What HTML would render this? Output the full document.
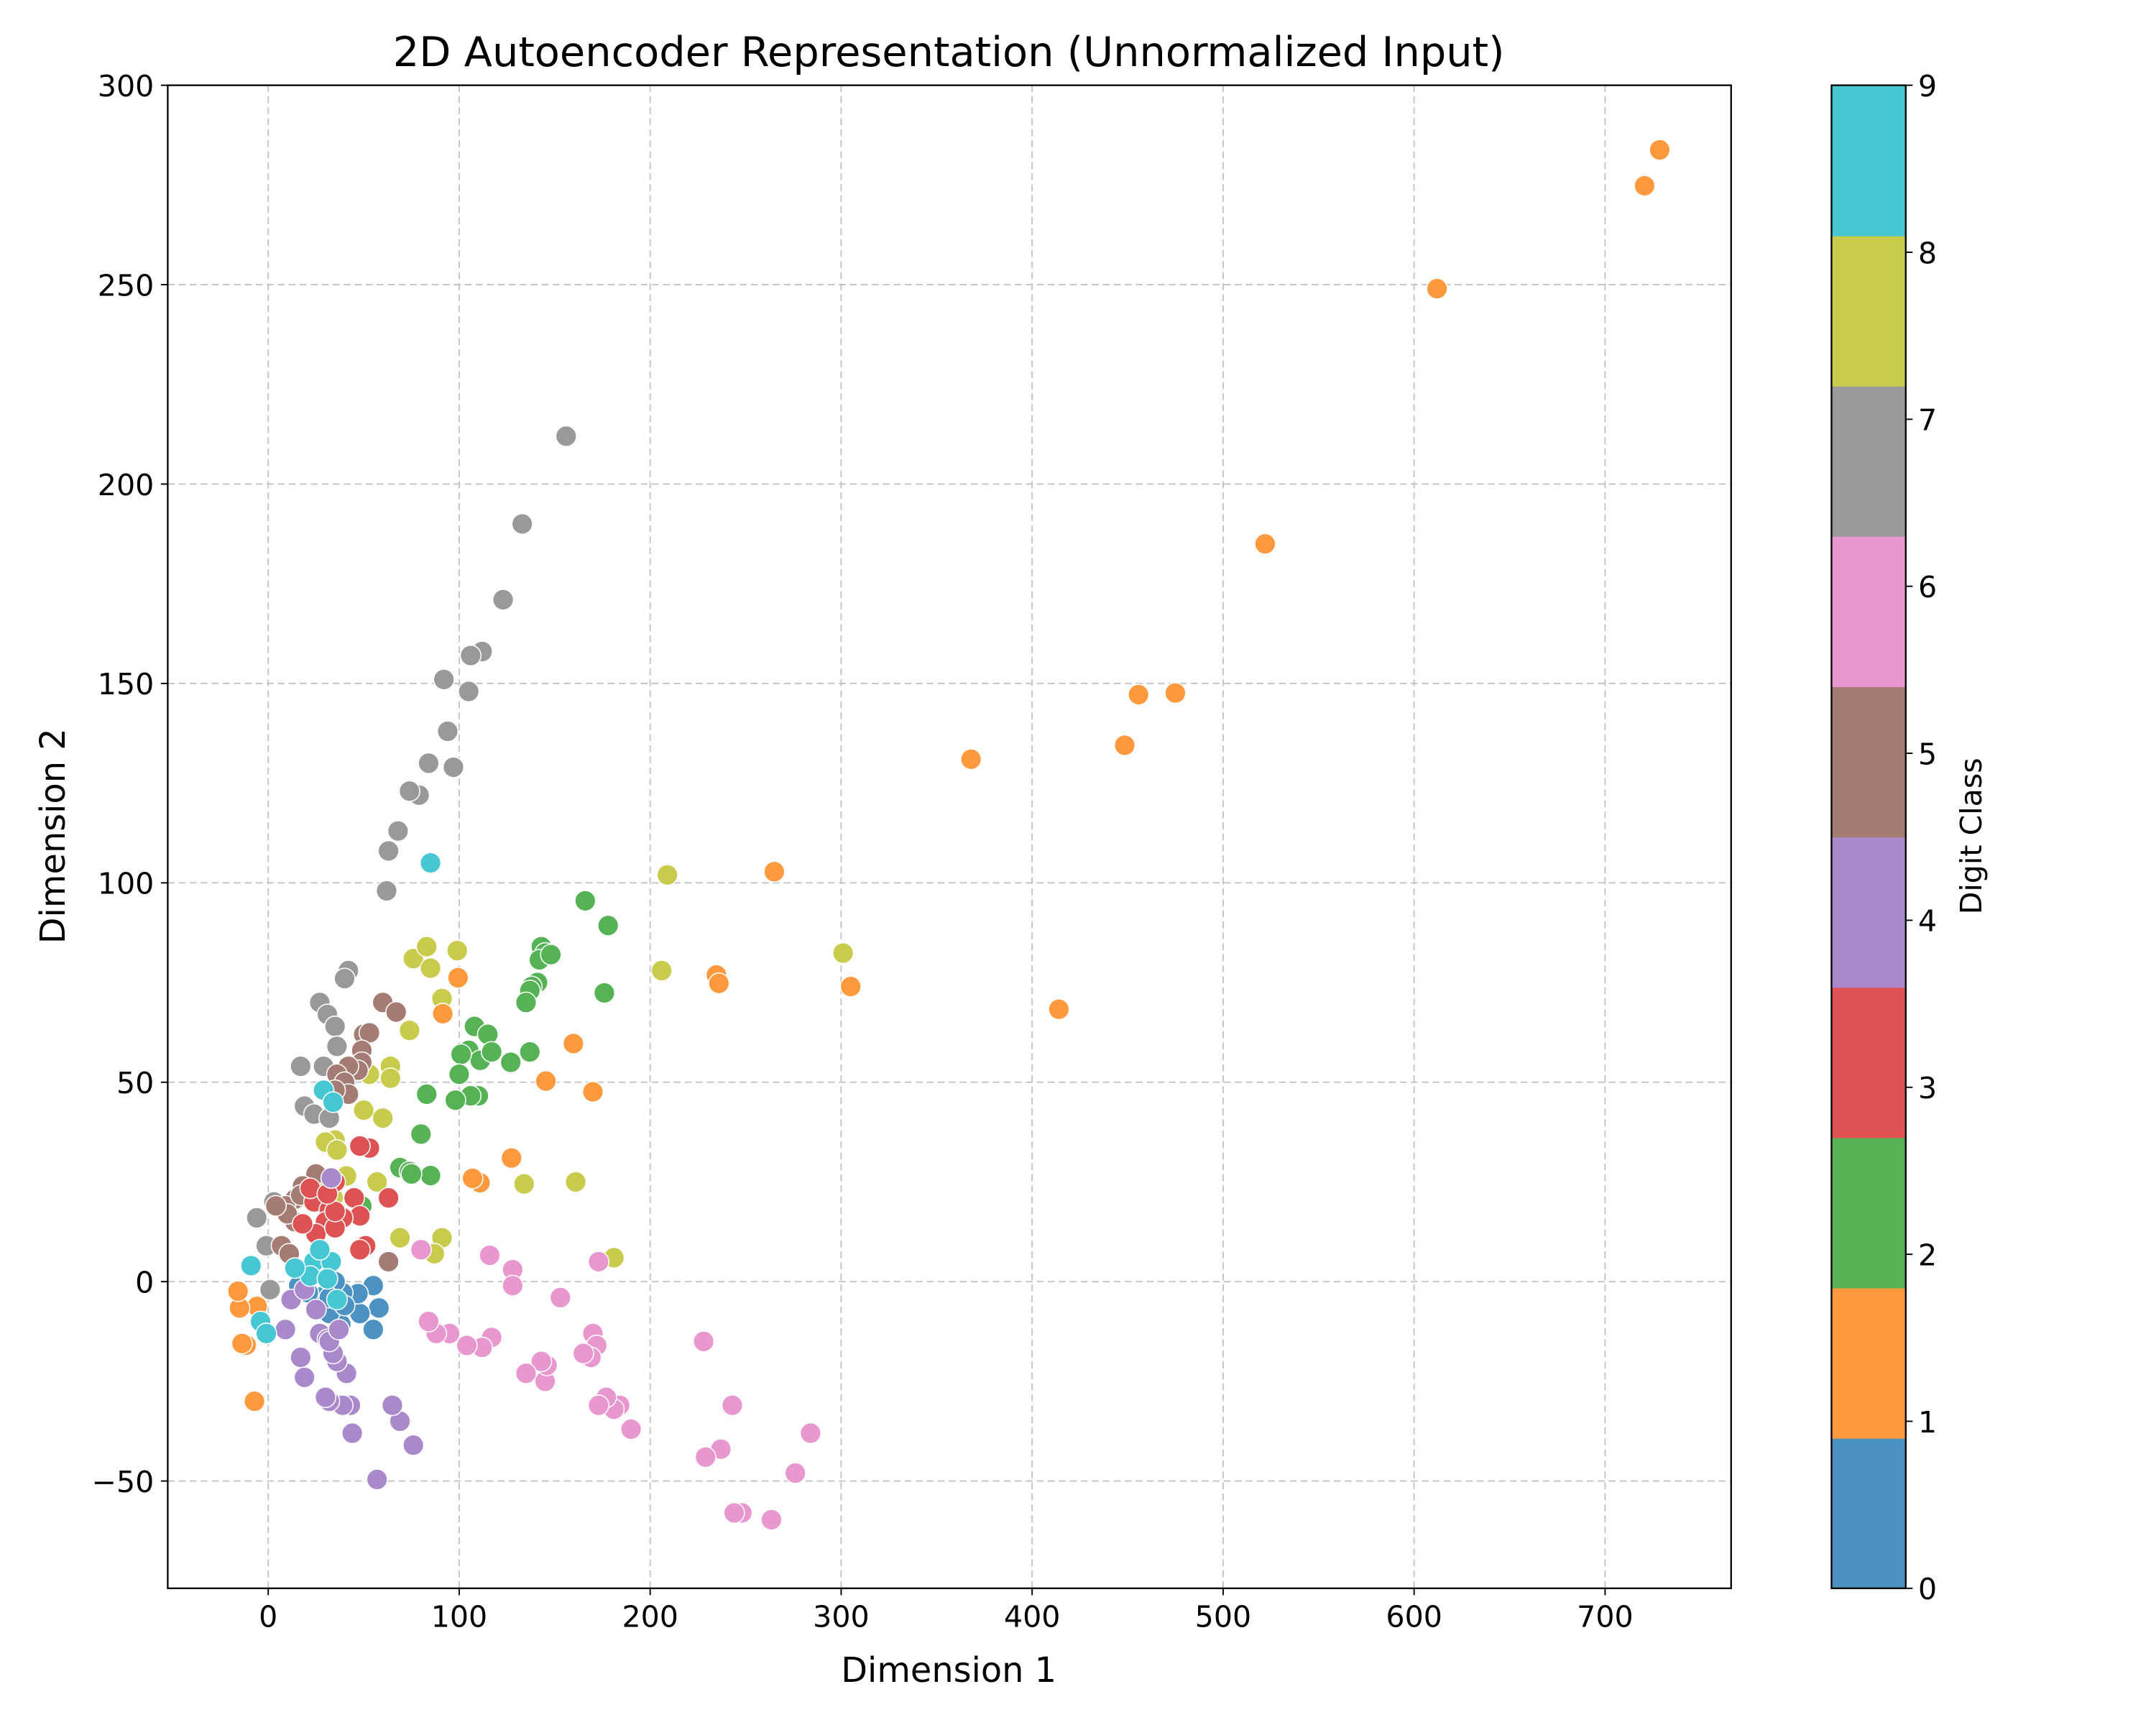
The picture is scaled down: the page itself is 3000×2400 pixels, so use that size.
<!DOCTYPE html>
<html><head><meta charset="utf-8"><style>
html,body{margin:0;padding:0;background:#fff;}
svg{display:block;font-family:"DejaVu Sans","Liberation Sans",sans-serif;}
</style></head><body>
<svg id="chart" width="3000" height="2400" viewBox="0 0 1568 1254.4" xmlns="http://www.w3.org/2000/svg">
<rect x="0" y="0" width="1568" height="1254.4" fill="#fff"/>
<text x="690" y="48" font-size="30" text-anchor="middle">2D Autoencoder Representation (Unnormalized Input)</text>
<text x="690" y="1223" font-size="25" text-anchor="middle">Dimension 1</text>
<text x="47" y="608" font-size="25" text-anchor="middle" transform="rotate(-90 47 608)">Dimension 2</text>
<text x="1441" y="608" font-size="21.5" text-anchor="middle" transform="rotate(-90 1441 608)">Digit Class</text>
<g id="grid"></g><g id="ticks"></g><g id="points"></g><g id="cbar"></g>
<rect x="122" y="62" width="1137" height="1093" fill="none" stroke="#000" stroke-width="1.2"/>
</svg>
<script>
const xTicks=[0,100,200,300,400,500,600,700];
const yTicks=[-50,0,50,100,150,200,250,300];
const classes=[0,1,2,3,4,5,6,7,8,9];
const classColors=["#4c92c3","#ff993e","#55b355","#de5253","#a988cb","#a57c74","#e897cf","#999999","#c8cb4b","#45c8d4"];
const c1=[[728.6,283.8],[720.7,274.8],[612,249],[522,185],[455.7,147.2],[475,147.6],[448.5,134.5],[368,131],[414,68.3],[305,74],[265,102.8],[234.7,76.9],[236,74.8],[159.8,59.7],[170,47.6],[145.4,50.3],[99.4,76.2],[91.4,67.2],[127.4,31],[110.9,24.8],[107,25.9],[-5.8,-6.2],[-15,-6.6],[-11.5,-15.9],[-13.7,-15.5],[-7.2,-30],[-15.8,-2.4]];
const c7=[[156,212],[133,190],[123,171],[112,158],[106,157],[105,148],[92,151],[94,138],[97,129],[84,130],[79,122],[74,123],[68,113],[63,108],[62,98],[42,78],[40,76],[27,70],[31,67],[35,64],[36,59],[17,54],[29,54],[19,44],[24,42],[32,41],[-6,16],[-1,9],[1,-2],[3,20]];
const c2=[[166,95.5],[178,89.3],[143,84],[145,82.4],[142,80.7],[148,82],[141,75],[138,74],[137,73],[135,70],[176,72.4],[108,64],[115,62],[105,58],[111,55.5],[117,57.6],[101,57],[127,55],[137,57.6],[100,52],[110,46.6],[106,46.6],[98,45.5],[83,47],[80,37],[85,26.6],[69,28.6],[74,27.6],[75,27],[49,19]];
const c8=[[209,102],[301,82.4],[206,78],[76,81],[83,84],[99,83],[85,78.6],[91,71],[74,63],[64,54],[64,51],[53,52],[50,43],[60,41],[35,35.5],[30,35],[36,33],[57,25],[161,25],[134,24.5],[30,24],[34,21],[69,11],[91,11],[87,7],[181,6],[41,26.5]];
const c3=[[63,21],[53,33.5],[48,34],[45,21],[48,16.5],[51,9],[48,8],[35,25],[24,20],[32,18],[30,15],[39,16],[25,12],[35,13.5],[35,17.6],[22,23.4],[31,22],[18,14.5]];
const c5=[[60,70],[67,67.6],[50,62],[53,62.4],[49,58],[49,55],[47,53],[42,54],[36,52],[40,50],[42,47],[35,48],[25,27],[18,24],[14,20.7],[9,19],[14,15],[10,17],[7,9],[11,7],[63,5],[4,19],[17,21.7]];
const c0=[[55,-1],[58,-6.6],[55,-12],[48,-8],[47,-3],[39,-2.8],[38,-10.7],[32,-8],[28,-3.8],[21,-2.8],[16,-1],[40,-6],[35,0],[32,-4]];
const c4=[[57,-49.6],[76,-41],[69,-35],[65,-31],[44,-38],[43,-31],[39,-31],[32,-30],[41,-23],[30,-29],[36,-20],[34,-18],[17,-19],[19,-24],[9,-12],[27,-13],[25,-7],[31,-14.5],[12,-4.5],[19,-2],[32,-15],[37,-12],[33,26]];
const c6=[[263.5,-59.7],[248,-58],[244,-58],[276,-48],[284,-38],[237,-42],[229,-44],[243,-31],[228,-15],[190,-37],[184,-31],[181,-32],[177,-29],[173,-31],[170,-13],[172,-16],[169,-19],[165,-18],[173,5],[153,-4],[145,-25],[146,-21],[143,-20],[135,-23],[128,3],[128,-1],[116,6.6],[117,-14],[112,-16.5],[104,-16],[95,-13],[88,-13],[84,-10],[80,8]];
const c9=[[85,105],[29,48],[34,45],[-9,4],[-4,-10],[-1,-13],[24,5],[33,5],[22,1.4],[14,3.4],[31,0.7],[36,-4.5],[27,8]];
const seriesByClass=[c0,c1,c2,c3,c4,c5,c6,c7,c8,c9];
const drawOrder=[7,2,8,5,3,0,4,6,1,9];

const L=122,R=1259,T=62,B=1155;
const xMin=-52.6,xMax=766,yMin=-76.9,yMax=300;
const sx=v=>L+(v-xMin)/(xMax-xMin)*(R-L);
const sy=v=>B-(v-yMin)/(yMax-yMin)*(B-T);
const NS="http://www.w3.org/2000/svg";
function mk(tag,attrs,parent){const e=document.createElementNS(NS,tag);for(const k in attrs)e.setAttribute(k,attrs[k]);parent.appendChild(e);return e;}
const grid=document.getElementById('grid'),ticks=document.getElementById('ticks'),pts=document.getElementById('points'),cb=document.getElementById('cbar');
xTicks.forEach(t=>{const x=sx(t);
 const g=mk('line',{x1:x,x2:x,y1:T,y2:B,stroke:'#c4c4c4','stroke-width':1,'stroke-dasharray':'5,3'},grid);
 
 
 mk('line',{x1:x,x2:x,y1:B,y2:B+5,stroke:'#000','stroke-width':1},ticks);
 const tx=mk('text',{x:x,y:B+28,'font-size':21.5,'text-anchor':'middle'},ticks);tx.textContent=t;
 
 
});
yTicks.forEach(t=>{const y=sy(t);
 const g=mk('line',{x1:L,x2:R,y1:y,y2:y,stroke:'#c4c4c4','stroke-width':1,'stroke-dasharray':'5,3'},grid);
 
 
 mk('line',{x1:L-5,x2:L,y1:y,y2:y,stroke:'#000','stroke-width':1},ticks);
 const tx=mk('text',{x:L-10,y:y+8,'font-size':21.5,'text-anchor':'end'},ticks);tx.textContent=t<0?'\u221250':t;
 
 
});
drawOrder.forEach(k=>{seriesByClass[k].forEach(p=>{
 const c=mk('circle',{cx:sx(p[0]),cy:sy(p[1]),r:7.5,fill:classColors[k],stroke:'#fff','stroke-width':0.8},pts);
 
 
});});
const CL=1332,CR=1386,n=classes.length,h=(B-T)/n;
classes.forEach((k,i)=>{
 const r=mk('rect',{x:CL,y:B-(i+1)*h,width:CR-CL,height:h+0.5,fill:classColors[k]},cb);
 
 
 const y=B-k/9*(B-T);
 mk('line',{x1:CR,x2:CR+5,y1:y,y2:y,stroke:'#000','stroke-width':1},cb);
 const tx=mk('text',{x:CR+9,y:y+8,'font-size':21.5},cb);tx.textContent=k;
 
 
});
const fr=mk('rect',{x:CL,y:T,width:CR-CL,height:B-T,fill:'none',stroke:'#000','stroke-width':1.2},cb);


</script>
</body></html>
